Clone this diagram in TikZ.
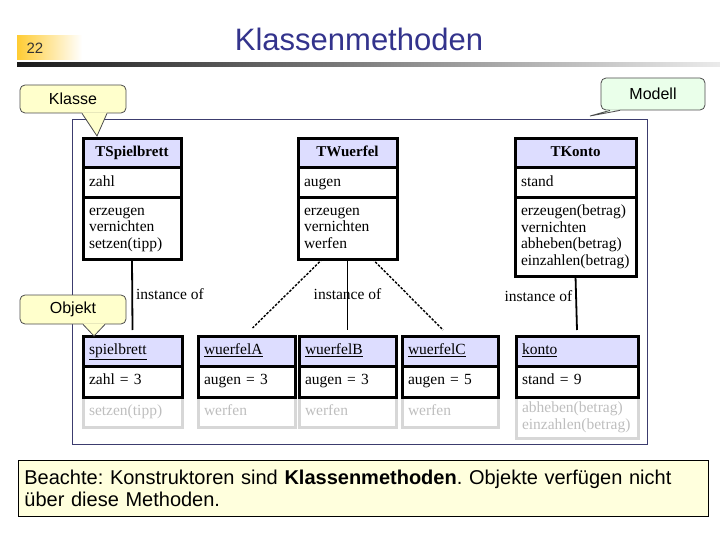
\documentclass[tikz,border=0pt]{standalone}
\usepackage{fontspec}
\setmainfont{Liberation Serif}
\setsansfont{Liberation Sans}
\usepackage{tikz}
\usetikzlibrary{positioning,backgrounds}
\definecolor{kopfblau}{RGB}{221,221,255}
\definecolor{geistgrau}{RGB}{215,215,215}
\definecolor{geisttext}{RGB}{190,190,190}
\definecolor{rahmenblau}{RGB}{60,60,110}
\definecolor{notizgelb}{RGB}{255,255,204}
\definecolor{notizgruen}{RGB}{234,255,234}
\definecolor{hinweisgelb}{RGB}{255,255,221}
\definecolor{titelblau}{RGB}{51,51,140}
\definecolor{seitenorange}{RGB}{255,204,51}

\begin{document}
\frenchspacing
\begin{tikzpicture}[x=1pt, y=-1pt,
	kasten/.style={draw, line width=3pt, outer sep=0pt, inner xsep=6pt, inner ysep=0pt, fill=white, font=\fontsize{15.5}{16.5}\selectfont, align=left, execute at begin node=\strut, execute at end node=\strut},
	kopf/.style={kasten, fill=kopfblau, minimum height=29pt, anchor=north west, align=center, font=\fontsize{15}{16.5}\selectfont\bfseries},
	objkopf/.style={kasten, fill=kopfblau, minimum height=30pt, anchor=north west},
	geist/.style={kasten, draw=geistgrau, text=geisttext, fill=none},
	notiz/.style={draw=black!70, line width=0.8pt, rounded corners=5pt, font=\sffamily\fontsize{16}{18}\selectfont},
	instanz/.style={line width=1.8pt},
	gestrichelt/.style={line width=1.4pt, dash pattern=on 2.5pt off 1.5pt},
	beschr/.style={font=\fontsize{15.5}{17}\selectfont, inner sep=3pt}
	]
				\useasboundingbox (0,0) rectangle (720,540);
				% Kopfzeile
				\shade[left color=seitenorange, right color=white] (17,36) rectangle (82,60);
				\shade[left color=black!90, right color=black!8] (17,63) rectangle (720,67);
				\node[font=\sffamily\fontsize{15}{17}\selectfont, text=black!80] (seite) at (35,48) {22};
				\node[font=\sffamily\fontsize{31}{36}\selectfont, text=titelblau] (titel) at (359,39) {Klassenmethoden};
				\draw[rahmenblau, line width=0.9pt] (72,119) rectangle (647,444);
				% Klassen
				\node[kopf, text width=86pt] (TSpielbrett) at (83,139) {TSpielbrett};
				\node[kasten, text width=86pt, minimum height=30pt, below=0pt of TSpielbrett] (TSpielbrett-a) {zahl};
				\node[kasten, text width=86pt, minimum height=61pt, below=0pt of TSpielbrett-a] (TSpielbrett-m) {erzeugen\\vernichten\\setzen(tipp)};
				\node[kopf, text width=87pt] (TWuerfel) at (298,139) {TWuerfel};
				\node[kasten, text width=87pt, minimum height=30pt, below=0pt of TWuerfel] (TWuerfel-a) {augen};
				\node[kasten, text width=87pt, minimum height=61pt, below=0pt of TWuerfel-a] (TWuerfel-m) {erzeugen\\vernichten\\werfen};
				\node[kopf, text width=109pt] (TKonto) at (515,139) {TKonto};
				\node[kasten, text width=109pt, minimum height=30pt, below=0pt of TKonto] (TKonto-a) {stand};
				\node[kasten, text width=109pt, minimum height=78pt, below=0pt of TKonto-a] (TKonto-m) {erzeugen(betrag)\\vernichten\\abheben(betrag)\\einzahlen(betrag)};
				% Objekte
				\node[objkopf, text width=87pt] (spielbrett) at (83,336) {\underline{spielbrett}};
				\node[kasten, text width=87pt, minimum height=31pt, below=0pt of spielbrett] (spielbrett-a) {zahl = 3};
				\node[objkopf, text width=85pt] (wuerfelA) at (198,336) {\underline{wuerfelA}};
				\node[kasten, text width=85pt, minimum height=31pt, below=0pt of wuerfelA] (wuerfelA-a) {augen = 3};
				\node[objkopf, text width=85pt] (wuerfelB) at (299,336) {\underline{wuerfelB}};
				\node[kasten, text width=85pt, minimum height=31pt, below=0pt of wuerfelB] (wuerfelB-a) {augen = 3};
				\node[objkopf, text width=84pt] (wuerfelC) at (402,336) {\underline{wuerfelC}};
				\node[kasten, text width=84pt, minimum height=31pt, below=0pt of wuerfelC] (wuerfelC-a) {augen = 5};
				\node[objkopf, text width=110pt] (konto) at (516,336) {\underline{konto}};
				\node[kasten, text width=110pt, minimum height=31pt, below=0pt of konto] (konto-a) {stand = 9};
				\begin{scope}[on background layer]
					\node[geist, text width=87pt, minimum height=30pt, below=0pt of spielbrett-a] (spielbrett-m) {setzen(tipp)};
					\node[geist, text width=85pt, minimum height=30pt, below=0pt of wuerfelA-a] (wuerfelA-m) {werfen};
					\node[geist, text width=85pt, minimum height=30pt, below=0pt of wuerfelB-a] (wuerfelB-m) {werfen};
					\node[geist, text width=84pt, minimum height=30pt, below=0pt of wuerfelC-a] (wuerfelC-m) {werfen};
					\node[geist, text width=110pt, minimum height=41pt, below=0pt of konto-a] (konto-m) {abheben(betrag)\\einzahlen(betrag)};
				\end{scope}
				% instance of
				\draw[instanz] (TSpielbrett-m.south) -- ([yshift=6pt]spielbrett.north) node[midway, right, beschr] {instance of};
				\draw[instanz] (TWuerfel-m.south) -- ([yshift=6pt]wuerfelB.north) node[midway, beschr] {instance of};
				\draw[gestrichelt] ([xshift=-25pt]TWuerfel-m.south) -- ([xshift=6pt,yshift=8pt]wuerfelA.north);
				\draw[gestrichelt] ([xshift=25pt]TWuerfel-m.south) -- ([xshift=-7pt,yshift=6pt]wuerfelC.north);
				\draw[instanz] (TKonto-m.south) -- ([yshift=6pt]konto.north) node[pos=0.37, left, beschr] {instance of};
				% Notizen
				\node[notiz, fill=notizgelb, minimum width=106pt, minimum height=28pt] (klasse) at (73,99) {Klasse};
				\coordinate (klasse-spitze) at (97,136);
				\fill[notizgelb] ([xshift=9pt,yshift=1pt]klasse.south) -- (klasse-spitze) -- ([xshift=34pt,yshift=1pt]klasse.south) -- cycle;
				\draw[black!70, line width=0.8pt] ([xshift=9pt]klasse.south) -- (klasse-spitze) -- ([xshift=34pt]klasse.south);
				\node[notiz, fill=notizgelb, minimum width=106pt, minimum height=29pt] (objekt) at (73,309.5) {Objekt};
				\coordinate (objekt-spitze) at (94,336);
				\fill[notizgelb] ([xshift=10pt,yshift=1pt]objekt.south) -- (objekt-spitze) -- ([xshift=32pt,yshift=1pt]objekt.south) -- cycle;
				\draw[black!70, line width=0.8pt] ([xshift=10pt]objekt.south) -- (objekt-spitze) -- ([xshift=32pt]objekt.south);
				\node[notiz, fill=notizgruen, minimum width=104pt, minimum height=32pt] (modell) at (653,94) {Modell};
				\coordinate (modell-spitze) at (590,116);
				\fill[notizgruen] ([xshift=-43pt,yshift=1pt]modell.south) -- (modell-spitze) -- ([xshift=-33pt,yshift=1pt]modell.south) -- cycle;
				\draw[black!70, line width=0.8pt] ([xshift=-43pt]modell.south) -- (modell-spitze) -- ([xshift=-33pt]modell.south);
				% Hinweis
				\node[draw, fill=hinweisgelb, line width=0.8pt, anchor=north west, text width=678pt, inner xsep=6pt, minimum height=56pt, align=left, font=\sffamily\fontsize{20}{22}\selectfont] (hinweis) at (18,460) {Beachte: Konstruktoren sind \textbf{Klassenmethoden}. Objekte verfügen nicht\\über diese Methoden.};
			\end{tikzpicture}
\end{document}
